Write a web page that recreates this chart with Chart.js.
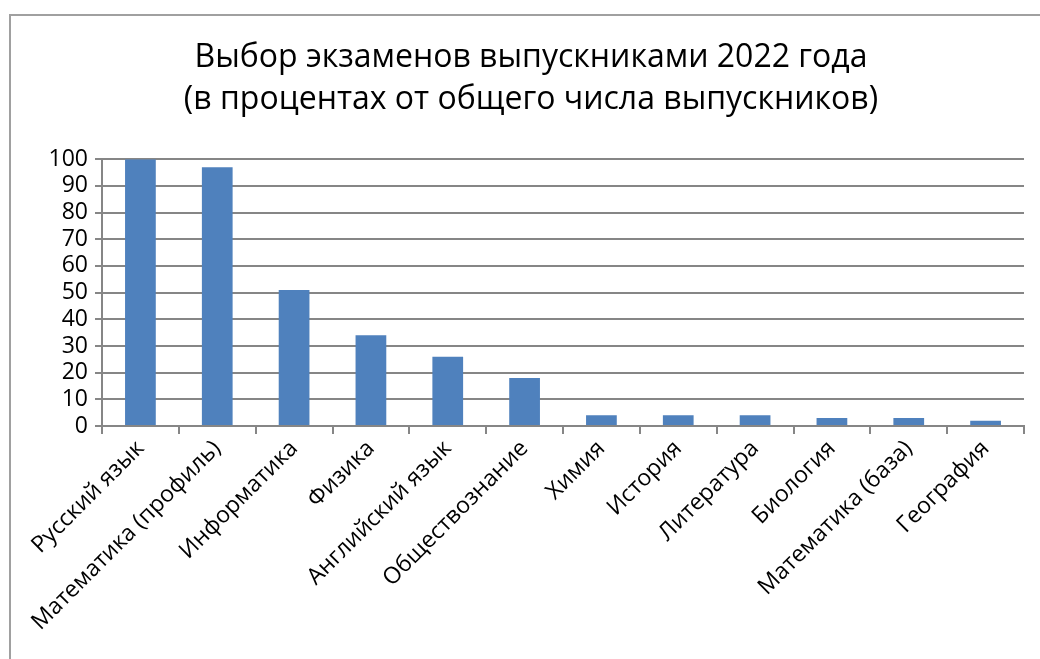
<!DOCTYPE html>
<html><head><meta charset="utf-8">
<script src="https://cdn.jsdelivr.net/npm/chart.js@4/dist/chart.umd.min.js"></script>
<style>
html,body{margin:0;padding:0;background:#fff;overflow:hidden}
#wrap{position:absolute;left:0;top:0;width:1040px;height:659px}
#frame{position:absolute;left:9px;top:14px;width:1100px;height:700px;border:2px solid #a0a0a0;box-sizing:border-box}
canvas{position:absolute;left:0;top:0}
</style></head>
<body>
<div id="wrap"><div id="frame"></div><canvas id="c" width="1040" height="659"></canvas></div>
<script>
const titleLines = ["Выбор экзаменов выпускниками 2022 года", "(в процентах от общего числа выпускников)"];
const categories = ["Русский язык","Математика (профиль)","Информатика","Физика","Английский язык","Обществознание","Химия","История","Литература","Биология","Математика (база)","География"];
const values = [100, 97, 51, 34, 26, 18, 4, 4, 4, 3, 3, 2];
const yTicks = [0,10,20,30,40,50,60,70,80,90,100];

const FONT = "'Open Sans', 'Noto Sans', sans-serif";
new Chart(document.getElementById('c'), {
  type: 'bar',
  data: { labels: categories, datasets: [{ data: values, backgroundColor: '#4f81bd', borderWidth: 0, categoryPercentage: 1, barPercentage: 0.4 }] },
  options: {
    responsive: false, animation: false,
    layout: { padding: { left: 38, right: 16, top: 37, bottom: 0 } },
    plugins: {
      legend: { display: false }, tooltip: { enabled: false },
      title: { display: true, text: titleLines, color: '#000', font: { family: FONT, size: 32, weight: 'normal', lineHeight: 1.3 }, padding: { top: 0, bottom: 39 } }
    },
    scales: {
      x: {
        grid: { display: true, drawOnChartArea: false, drawTicks: true, tickLength: 8, offset: true, color: '#868686', lineWidth: 2 },
        border: { color: '#868686', width: 2 },
        ticks: { autoSkip: false, maxRotation: 45, minRotation: 45, color: '#000', font: { family: FONT, size: 23 }, padding: 1 },
        afterFit: (s) => { s.height = 233; }
      },
      y: {
        min: 0, max: 100,
        afterBuildTicks: (s) => { s.ticks = yTicks.map(v => ({ value: v })); },
        grid: { color: '#868686', lineWidth: 2, tickLength: 7 },
        border: { color: '#868686', width: 2 },
        ticks: { autoSkip: false, color: '#000', font: { family: FONT, size: 23, lineHeight: 1 }, padding: 7 },
        afterFit: (s) => { s.width = 64; }
      }
    }
  }
});
</script>
</body></html>
